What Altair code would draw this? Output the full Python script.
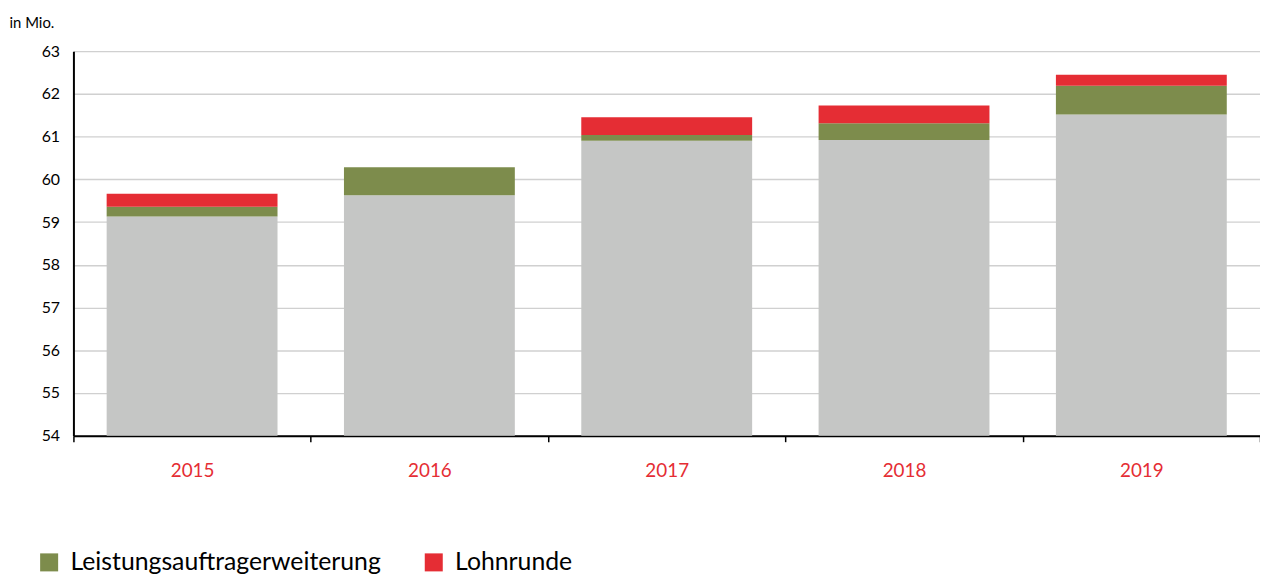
import altair as alt
import pandas as pd

years = ["2015", "2016", "2017", "2018", "2019"]
base = [59.13, 59.63, 60.90, 60.92, 61.52]
leistung = [0.23, 0.65, 0.14, 0.39, 0.67]
lohnrunde = [0.30, 0.00, 0.41, 0.42, 0.26]
series = ["Basis", "Leistungsauftragerweiterung", "Lohnrunde"]
colors = ["#c5c6c5", "#7d8c4c", "#e52d34"]

rows = []
for i, y in enumerate(years):
    for k, (name, vals) in enumerate(zip(series, [base, leistung, lohnrunde])):
        rows.append({"Jahr": y, "Serie": name, "Wert": vals[i], "ord": k})
df = pd.DataFrame(rows)

FONT = "Lato"

chart = alt.Chart(df).mark_bar(clip=True, width=alt.RelativeBandSize(0.72)).encode(
    x=alt.X("Jahr:N", title=None,
            scale=alt.Scale(paddingInner=0, paddingOuter=0),
            axis=alt.Axis(labelAngle=0, labelColor="#e52d34", labelFontSize=19,
                          labelFont=FONT, labelPadding=20, tickBand="extent",
                          ticks=True, tickSize=6, tickColor="#000", tickWidth=1.5,
                          domainColor="#000", domainWidth=2, grid=False)),
    y=alt.Y("Wert:Q", stack="zero",
            scale=alt.Scale(domain=[54, 63], zero=False, nice=False),
            axis=alt.Axis(title="in Mio.", titleAngle=0, titleAlign="left",
                          titleBaseline="alphabetic", titleX=-65, titleY=-24,
                          titleFontSize=15, titleFontWeight="normal", titleFont=FONT,
                          titleColor="#000",
                          values=list(range(54, 64)), labelFontSize=16, labelFont=FONT,
                          labelColor="#000", labelPadding=14, ticks=False,
                          domainColor="#000", domainWidth=2,
                          gridColor="#d0d0d0", gridWidth=1.5)),
    color=alt.Color("Serie:N",
                    scale=alt.Scale(domain=series, range=colors),
                    legend=alt.Legend(title=None, orient="none", direction="horizontal",
                                      legendX=-37, legendY=503,
                                      values=["Leistungsauftragerweiterung", "Lohnrunde"],
                                      symbolType="square", symbolSize=330,
                                      symbolStrokeWidth=0, labelLimit=0,
                                      labelFontSize=25, labelFont=FONT, labelColor="#000",
                                      columnPadding=40, labelOffset=9)),
    order=alt.Order("ord:Q", sort="ascending"),
).properties(
    width=1197, height=388,
    autosize=alt.AutoSizeParams(type="none"),
    padding={"left": 66, "top": 41, "right": 0, "bottom": 142},
).configure_view(stroke=None)

chart.save("out.html", embed_options={"renderer": "svg", "actions": False})
